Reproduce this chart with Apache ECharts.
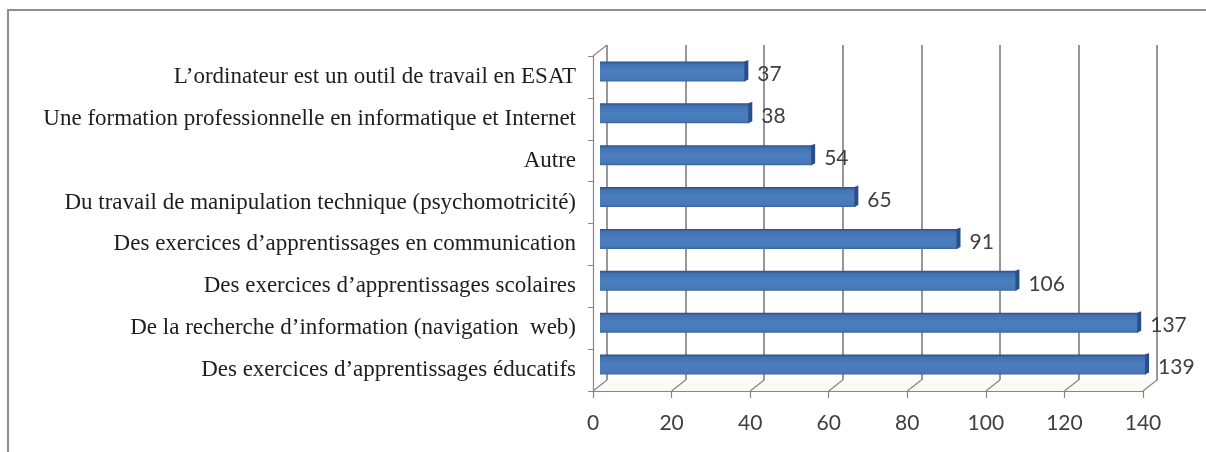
<!DOCTYPE html>
<html>
<head>
<meta charset="utf-8">
<script src="https://cdn.jsdelivr.net/npm/echarts@6/dist/echarts.min.js"></script>
<style>
  html, body { margin: 0; padding: 0; background: #ffffff; }
  #chart { width: 1206px; height: 452px; }
</style>
</head>
<body>
<div id="chart"></div>
<script>
// Activités proposées sur ordinateur (nombre de réponses)
const categories = [
  "L’ordinateur est un outil de travail en ESAT",
  "Une formation professionnelle en informatique et Internet",
  "Autre",
  "Du travail de manipulation technique (psychomotricité)",
  "Des exercices d’apprentissages en communication",
  "Des exercices d’apprentissages scolaires",
  "De la recherche d’information (navigation  web)",
  "Des exercices d’apprentissages éducatifs"
];
const values = [37, 38, 54, 65, 91, 106, 137, 139];
const tickValues = [0, 20, 40, 60, 80, 100, 120, 140];

// Pseudo-3D box: front plane, back wall and the mid-depth plane of the bars
const FRONT = { left: 593, right: 63, top: 56, bottom: 61 };
const DX = 14, DY = 11;
function depthGrid(k) {
  return {
    left: FRONT.left + DX * k,
    right: FRONT.right - DX * k,
    top: FRONT.top - DY * k,
    bottom: FRONT.bottom + DY * k
  };
}

const AXIS_GREY = '#868686';
const valueAxisBase = { type: 'value', min: 0, max: 140, interval: 20 };

const chart = echarts.init(document.getElementById('chart'), null, { renderer: 'canvas' });

chart.setOption({
  animation: false,
  backgroundColor: '#ffffff',
  graphic: [{
    type: 'rect',
    shape: { x: 8, y: 10, width: 1400, height: 700 },
    style: { fill: 'none', stroke: '#8e8e8e', lineWidth: 2 },
    silent: true
  }],
  grid: [
    Object.assign({}, FRONT),        // front plane: labels and axes
    depthGrid(1),                    // back wall: gridlines
    depthGrid(0.5)                   // bars
  ],
  xAxis: [
    Object.assign({}, valueAxisBase, {
      gridIndex: 0,
      axisLine: { show: true, lineStyle: { color: AXIS_GREY, width: 1.2 } },
      axisTick: { show: true, length: 7, lineStyle: { color: AXIS_GREY, width: 1.2 } },
      axisLabel: { margin: 22, fontFamily: 'Lato', fontSize: 21, color: '#404040' },
      splitLine: { show: false }
    }),
    Object.assign({}, valueAxisBase, {
      gridIndex: 1,
      axisLine: { show: true, lineStyle: { color: AXIS_GREY, width: 1.2 } },
      axisTick: { show: false },
      axisLabel: { show: false },
      splitLine: { show: true, lineStyle: { color: '#7d7d7d', width: 1.6 } }
    }),
    Object.assign({}, valueAxisBase, { gridIndex: 2, show: false })
  ],
  yAxis: [
    {
      type: 'category', gridIndex: 0, inverse: true, data: categories,
      axisLine: { show: true, lineStyle: { color: AXIS_GREY, width: 1.2 } },
      axisTick: { show: true, length: 5, lineStyle: { color: AXIS_GREY } },
      axisLabel: { margin: 17, fontFamily: 'Liberation Serif', fontSize: 23, color: '#1e1e1e' },
      splitLine: { show: false }
    },
    { type: 'category', gridIndex: 1, inverse: true, data: categories, show: false },
    { type: 'category', gridIndex: 2, inverse: true, data: categories, show: false }
  ],
  series: [
    {
      // floor edges joining the back wall to the front axis
      type: 'custom',
      xAxisIndex: 0, yAxisIndex: 0,
      data: tickValues.map(v => [v]),
      encode: { x: 0 },
      silent: true,
      z: 1,
      renderItem: function (params, api) {
        const cs = params.coordSys;
        const x = api.coord([api.value(0), 0])[0];
        const yb = cs.y + cs.height;
        const children = [];
        if (params.dataIndex === 0) {
          const xEnd = cs.x + cs.width;
          children.push({
            type: 'polygon',
            shape: { points: [[x, yb], [x + DX, yb - DY], [xEnd + DX, yb - DY], [xEnd, yb]] },
            style: { fill: '#fdf9f4' }
          });
          children.push({
            type: 'line',
            shape: { x1: x, y1: cs.y, x2: x + DX, y2: cs.y - DY },
            style: { stroke: AXIS_GREY, lineWidth: 1.2 }
          });
        }
        children.push({
          type: 'line',
          shape: { x1: x, y1: yb, x2: x + DX, y2: yb - DY },
          style: { stroke: AXIS_GREY, lineWidth: 1.2 }
        });
        return { type: 'group', children: children };
      }
    },
    {
      type: 'bar',
      xAxisIndex: 2, yAxisIndex: 2,
      data: values,
      barWidth: 20,
      z: 3,
      itemStyle: {
        color: new echarts.graphic.LinearGradient(0, 0, 0, 1, [
          { offset: 0, color: '#2b4e84' },
          { offset: 0.14, color: '#4372b4' },
          { offset: 0.5, color: '#4a7ebf' },
          { offset: 0.88, color: '#4879b9' },
          { offset: 1, color: '#3a66a2' }
        ])
      },
      label: {
        show: true,
        position: 'right',
        distance: 12,
        offset: [0, 3],
        fontFamily: 'Lato',
        fontSize: 21,
        color: '#404040'
      }
    },
    {
      // darker end face of each bar
      type: 'custom',
      xAxisIndex: 2, yAxisIndex: 2,
      data: values.map((v, i) => [v, i]),
      encode: { x: 0, y: 1 },
      silent: true,
      z: 4,
      renderItem: function (params, api) {
        const e = api.coord([api.value(0), api.value(1)]);
        const h = 20;
        const t = e[1] - h / 2;
        return {
          type: 'polygon',
          shape: { points: [[e[0] - 1, t], [e[0] + 3, t - 1.5], [e[0] + 3, t + h - 2], [e[0] - 1, t + h]] },
          style: { fill: '#2a4f86' }
        };
      }
    }
  ]
});
</script>
</body>
</html>
